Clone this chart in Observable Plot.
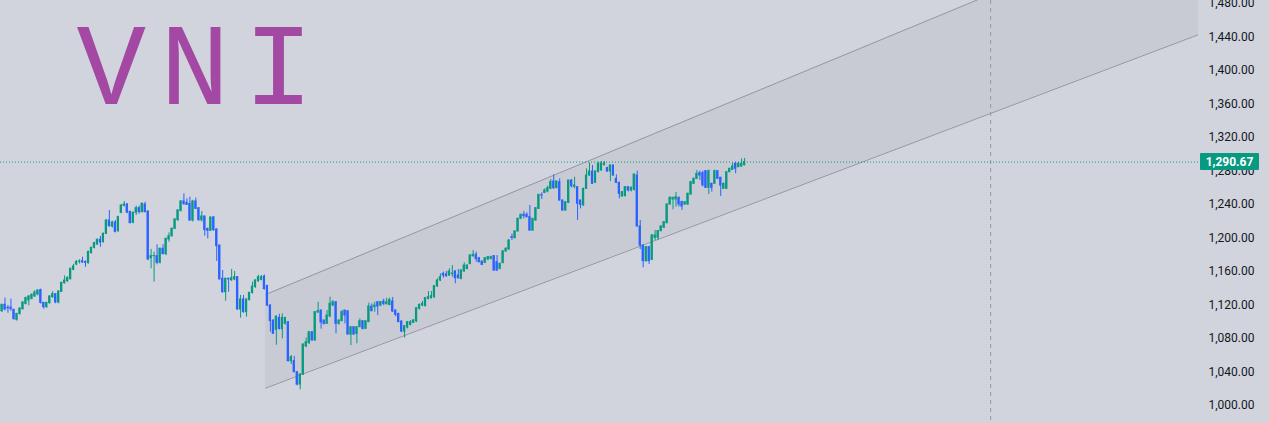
<!DOCTYPE html>
<html><head><meta charset="utf-8">
<script src="https://cdn.jsdelivr.net/npm/d3@7"></script>
<script src="https://cdn.jsdelivr.net/npm/@observablehq/plot@0.6"></script>
<style>html,body{margin:0;padding:0;background:#d1d4dc;overflow:hidden}</style>
</head><body><div id="chart"></div>
<script>
// ---- data ----
const title = "VNI";
const priceTicks = [1000,1040,1080,1120,1160,1200,1240,1280,1320,1360,1400,1440,1480];
const opens = [
1112.6,1120.2,1116.6,1117,1114.2,1102.3,1109.4,1115,1121.4,1125.4,
1127.4,1130.2,1132.5,1137.7,1122.6,1117.4,1122.2,1129.4,1132.9,1123,
1135.7,1146,1148.4,1150.8,1162,1168.3,1171.5,1172.3,1171.5,1169.9,
1181.9,1188.3,1192.2,1197.8,1195,1205,1220.9,1213.7,1218.5,1208.1,
1230,1238.4,1240,1231.2,1218.1,1230.1,1235.6,1230.9,1240,1231.7,
1175.9,1178.3,1178.3,1170.4,1187.1,1180.7,1198.2,1202.2,1211,1221.3,
1232.4,1243.6,1242,1240.8,1220.9,1243.6,1235.6,1221.3,1225.7,1211,
1208.6,1224.5,1210.2,1191,1151.3,1135.3,1151.3,1149.7,1150.5,1153.3,
1114.6,1126.6,1111.5,1125.8,1134.5,1141.3,1148.4,1150,1154,1142.8,
1119.4,1101.5,1090.3,1104.6,1091.1,1097.5,1099.5,1052.9,1052.9,1039.8,
1025,1037,1070.4,1074.4,1087.5,1077.6,1111,1113.4,1101.5,1097.5,
1106.2,1119.4,1123.3,1097.5,1100.7,1113.4,1112.6,1084.7,1093.5,1085.5,
1093.5,1100.7,1091.5,1099.5,1118.2,1117.4,1123.3,1119.4,1124.2,1121,
1120,1124.2,1113.4,1109.4,1100.3,1088.3,1093.1,1096.3,1098.7,1100.3,
1115.4,1119.4,1118.6,1127.3,1128.2,1129.3,1142.1,1149.2,1157.2,1156.5,
1155.2,1156.8,1160,1155.2,1151.2,1160,1163,1169.1,1178.3,1179.9,
1175.9,1171.9,1170.3,1174.3,1175.1,1178.3,1171.1,1163.2,1170.3,1183.9,
1186.3,1201,1199.8,1207.8,1222.9,1227.7,1227.7,1224.9,1208.9,1220.9,
1234.8,1251,1253.9,1255.5,1258.7,1267.5,1259.5,1266.7,1244.8,1232.8,
1242,1268.6,1261.1,1260.7,1244.8,1238.8,1258.7,1274.6,1279.4,1265.9,
1278.6,1280.6,1287,1283.4,1279.4,1286.6,1270.6,1265.9,1249.5,1250.1,
1260.7,1256.7,1257.5,1274.6,1213.8,1191,1172.4,1189.1,1173.9,1200.2,
1200.2,1208.2,1212.2,1217.7,1240,1246,1246,1248,1242.8,1240,
1240,1251.9,1264.7,1270.7,1277.4,1277.4,1279.8,1259.9,1264.7,1264.7,
1279.8,1271.9,1258.7,1258.7,1278.6,1281.4,1288.6,1284.6,1285.4,1287];
const highs = [
1121,1128.2,1119.4,1127,1115,1110,1116.5,1124,1129.5,1131,
1133,1137,1138,1139,1123,1123,1131,1136.1,1133.5,1137,
1147,1154.8,1153.5,1164,1168.5,1173,1174,1177.1,1172.5,1184,
1189,1195,1199,1201.8,1206,1222,1232.8,1220,1220.9,1226,
1240,1243.6,1241,1232,1231,1238,1238,1242,1242.8,1232,
1186.3,1183.1,1191.9,1188,1191.9,1200,1206.2,1212,1223,1234,
1244.8,1252.7,1246.8,1248.8,1245,1247.6,1236,1231.7,1226,1211.5,
1225,1225.7,1211,1191.5,1161.2,1152,1152,1162.4,1160,1154,
1131.4,1131.4,1127,1135,1147.3,1150,1155.6,1155.2,1155.6,1143.5,
1120,1102,1107,1109,1109.4,1105,1100,1059.7,1058.5,1040,
1038,1073.5,1080.7,1088,1088,1112,1123.3,1114,1102,1113.4,
1129.3,1125.3,1124,1102,1113.4,1113.5,1113,1094,1094,1094,
1103.4,1101,1101,1122.2,1121.4,1123.3,1124,1124.2,1127,1128.2,
1128.2,1129,1114,1110,1101,1095.5,1100.3,1101.5,1102.7,1117,
1121,1124.2,1129,1136.1,1136.1,1143,1151.2,1157.2,1159.2,1160,
1163.2,1167.1,1161,1162.4,1162,1170.3,1168,1180,1185,1183.1,
1176.5,1172.5,1176.5,1178,1178.3,1179,1179.1,1170,1185,1188.6,
1198,1204.6,1208.5,1223.5,1228.5,1231.6,1230,1238.8,1223.5,1236.4,
1252,1254,1258.7,1261.9,1269.8,1275.4,1268,1270.6,1245,1243.5,
1269,1269.8,1272.6,1261,1245,1259.5,1282.6,1289.7,1286.6,1280,
1290.5,1291.3,1291.3,1284.6,1287,1287,1275.4,1266.5,1255.5,1261.5,
1261.5,1261,1276.5,1279.8,1220.9,1192,1190,1190,1204,1209,
1209,1214.5,1219.5,1241,1249,1248.5,1254.3,1248.8,1244,1243.5,
1253.5,1267.5,1271.5,1280.6,1279.8,1279.8,1280.6,1281,1265.5,1281,
1280.6,1272.5,1265.5,1279.5,1283.5,1289.4,1290.5,1290.5,1294.5,1295];
const lows = [
1111,1113,1110.2,1112.6,1102,1100.7,1108,1114,1120,1119,
1126,1129,1131,1121,1115,1116,1121,1128,1121.4,1121.4,
1135,1145,1147,1150,1161,1167,1169,1170,1165,1169,
1181,1187,1191,1189,1194,1204,1213,1212,1206,1207,
1229,1237,1229,1217,1217,1226.9,1228.5,1230,1230,1173,
1163.2,1147.3,1168,1169,1180,1179,1195,1201,1210,1220,
1231,1238.8,1238.8,1220,1219,1234,1220,1219,1202.2,1199,
1208,1208,1172,1150,1134,1124.6,1135.3,1148,1149,1114,
1104.3,1110,1105.5,1125,1133,1140,1147,1149,1138,1118,
1087.5,1085,1072,1090,1079.6,1096,1052,1048.9,1039,1023.4,
1018.7,1036,1069,1073,1077,1077,1110,1091.1,1096,1097,
1105,1118,1085.5,1096,1100,1097.5,1084,1071.6,1084,1073.6,
1093,1090,1091,1099,1112,1111.4,1107.4,1118,1119,1120,
1119,1111,1106,1099,1087,1080.4,1091.5,1095,1098,1099,
1114,1118,1118,1126,1127,1128,1141,1148,1152,1153,
1154,1153.2,1145.3,1151,1150,1159,1162,1168,1177,1171.1,
1170.3,1167,1169.5,1173,1174,1160,1160,1162,1169,1183,
1185,1197,1199,1207,1222,1222.9,1224,1208,1208,1220,
1234,1246,1253,1254,1258,1258,1259,1244,1232,1232,
1241,1259.5,1258.7,1220.9,1234.8,1238,1258,1273.8,1264,1265,
1278,1280,1286,1278.6,1267.5,1274,1265,1246.8,1249,1249,
1255,1255,1256,1213,1186,1164.4,1171,1168.4,1173,1197,
1197,1207.5,1211.5,1217,1239,1233.7,1236.9,1236.9,1232.9,1239,
1239,1251,1264,1270,1268.7,1261,1259,1251.9,1254.7,1264,
1270,1249.6,1258,1258,1278,1280.6,1276.6,1284,1284.6,1286];
const closes = [
1120.2,1114.6,1116,1115,1103.1,1109.4,1115.8,1123,1128.2,1130.2,
1132.2,1134.9,1137.3,1122.6,1117.4,1122.6,1130.2,1132.9,1123,1136.1,
1146.5,1149.2,1152.4,1163.2,1166,1171.5,1171.9,1170.7,1170.3,1183.5,
1188.3,1193.8,1197.8,1194.6,1205,1220.9,1214.1,1218.5,1207.4,1224.9,
1238.8,1240,1230.4,1217.7,1230.1,1235.6,1230.9,1240.8,1230.9,1174.3,
1178.3,1178.5,1170.4,1187.1,1180.7,1199,1202.2,1211,1222.1,1232.8,
1243.6,1240.8,1239.6,1220.9,1243.6,1234.8,1221.3,1225.7,1209.4,1208.6,
1224.5,1209.4,1190.3,1150.5,1135.3,1151.3,1150.5,1152,1153.3,1114.6,
1126.6,1111.5,1126.6,1134.5,1142.1,1149.3,1153.2,1153.2,1138.9,1119.4,
1100.7,1085.5,1106.2,1091.5,1104.6,1104.6,1052.9,1057.7,1039.8,1025,
1037,1072.8,1075.6,1087.5,1077.6,1111.4,1112.6,1099.1,1097.5,1107.4,
1121.4,1123.3,1097.5,1101.5,1111.4,1107.4,1084.7,1093.5,1084.7,1093.5,
1100.7,1091.5,1100.7,1118.2,1112.6,1119.4,1118.2,1123.3,1121.4,1123.3,
1126,1112.2,1108.2,1099.5,1088.3,1094.7,1099.5,1099.5,1101.5,1116.2,
1120.2,1121.4,1128.2,1129.3,1130.5,1142.5,1149.2,1153.2,1155.2,1154.4,
1160,1157.6,1152,1152,1161.2,1167.1,1167.1,1179.1,1179.9,1175.1,
1171.1,1167.9,1175.9,1177.1,1177.1,1161.2,1161.2,1169.1,1183.9,1187,
1197,1200.2,1207.8,1222.9,1227.7,1226.1,1224.9,1208.9,1222.9,1235.6,
1251.5,1250.7,1256.7,1259.5,1266.7,1259.5,1267.5,1244.8,1232.8,1242.8,
1268.6,1261.9,1262.7,1240.8,1239.6,1258.7,1274.6,1279.4,1264.7,1279.4,
1288.6,1288.6,1288.6,1279.4,1286.6,1274.6,1265.9,1252.7,1254.7,1260.7,
1256.7,1259.9,1275.8,1213.8,1191.1,1172.4,1189.1,1172.4,1203,1203,
1208.2,1213.8,1218.9,1240,1248,1248,1248.8,1240,1237.6,1242.8,
1252.8,1266.7,1270.7,1276.6,1274.6,1262.7,1259.9,1279.8,1259.9,1279.8,
1270.7,1262.7,1264.7,1278.6,1282.6,1285.4,1282.6,1288.6,1288.6,1290.67];
// channel drawn on the chart (bar index, price)
const channelX = [88.4, 401.2];
const channelUpper = [1132.5, 1593.6];
const channelLower = [1020.7, 1442.8];
const markerX = [331.5]; // vertical dashed line (bar index)

// ---- build ----
const UP = "#089981", DOWN = "#2962ff";
const N = closes.length;
const candles = closes.map((c, i) => ({i, o: opens[i], h: highs[i], l: lows[i], c}));
const col = d => d.c >= d.o ? UP : DOWN;
const channel = channelX.map((x, j) => ({x, lo: channelLower[j], hi: channelUpper[j]}));
const lastClose = closes[N - 1];

const chart = Plot.plot({
  width: 1269, height: 423,
  marginLeft: 0, marginRight: 71, marginTop: 0, marginBottom: 0,
  style: {background: "#d1d4dc", fontFamily: "Roboto, sans-serif", fontSize: "12px", color: "#131722", overflow: "hidden"},
  x: {domain: [-0.5, 401.2], axis: null},
  y: {domain: [978.5, 1483.6], axis: null},
  color: {type: "identity"},
  marks: [
    Plot.areaY(channel, {x: "x", y1: "lo", y2: "hi", fill: "#787b86", fillOpacity: 0.09, clip: true}),
    Plot.line(channel, {x: "x", y: "hi", stroke: "#9598a1", strokeWidth: 1, clip: true}),
    Plot.line(channel, {x: "x", y: "lo", stroke: "#9598a1", strokeWidth: 1, clip: true}),
    Plot.ruleX(markerX, {stroke: "#9598a1", strokeDasharray: "4,4"}),
    Plot.ruleY([lastClose], {stroke: UP, strokeDasharray: "1,2"}),
    Plot.ruleX(candles, {x: "i", y1: "l", y2: "h", stroke: col, strokeWidth: 1}),
    Plot.rect(candles, {x1: d => d.i - 0.38, x2: d => d.i + 0.38,
      y1: d => Math.min(d.o, d.c), y2: d => Math.max(d.o, d.c),
      fill: col, insetTop: -0.5, insetBottom: -0.5}),
    Plot.axisY({anchor: "right", ticks: priceTicks, tickFormat: d3.format(",.2f"),
      tickSize: 0, tickPadding: 10, fill: "#131722", fontSize: 12}),
    Plot.text([title], {text: d => d, frameAnchor: "top-left", dx: 76, dy: 21, lineAnchor: "top",
      textAnchor: "start", fontSize: 116, fontFamily: "Liberation Mono",
      fill: "#a349a4"})
  ]
});
document.getElementById("chart").append(chart);

// handwritten-looking spacing for the title
d3.select(chart).selectAll("text").filter(function () { return this.textContent === title; })
  .attr("letter-spacing", 14);

// last-price tag on the price axis
const yPx = chart.scale("y").apply(lastClose);
const svg = d3.select(chart);
svg.append("rect").attr("x", 1200).attr("y", yPx - 8.5).attr("width", 59).attr("height", 17)
  .attr("rx", 1).attr("fill", UP);
svg.append("text").attr("x", 1229.5).attr("y", yPx).attr("dy", "0.36em")
  .attr("text-anchor", "middle").attr("fill", "#ffffff").attr("font-weight", "bold")
  .attr("font-size", 12).attr("font-family", "Roboto, sans-serif").text(d3.format(",.2f")(lastClose));
</script>
</body></html>
